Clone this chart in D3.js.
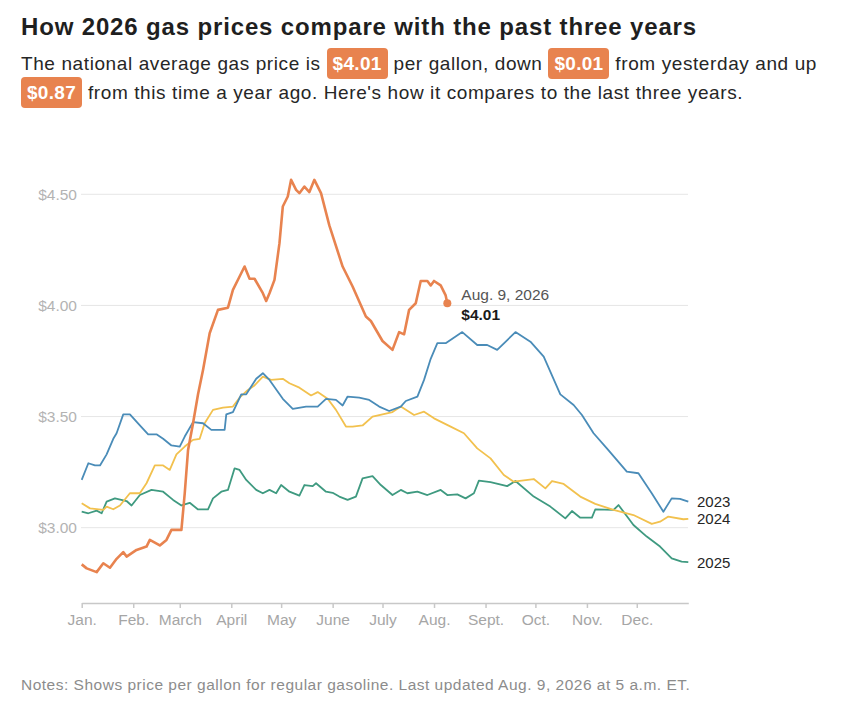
<!DOCTYPE html>
<html>
<head>
<meta charset="utf-8">
<script src="https://cdn.jsdelivr.net/npm/d3@7"></script>
<style>
  body { margin: 0; background: #fff; font-family: "Liberation Sans", Arial, sans-serif; }
  #head { position: absolute; left: 21px; top: 12px; width: 825px; }
  h1 { font-size: 24px; margin: 0; color: #1f1f1f; letter-spacing: 0.85px; line-height: 30px; }
  .sub { font-size: 19px; color: #262626; line-height: 28.5px; margin-top: 8px; letter-spacing: 0.6px; }
  .badge { background: #e8834f; color: #fff; font-weight: bold; border-radius: 4px; padding: 5px 6px; letter-spacing: 0.3px; }
  #chart { position: absolute; left: 0; top: 0; }
</style>
</head>
<body>
<div id="head">
  <h1>How 2026 gas prices compare with the past three years</h1>
  <div class="sub">The national average gas price is <span class="badge">$4.01</span> per gallon, down <span class="badge">$0.01</span> from yesterday and up<br><span class="badge">$0.87</span> from this time a year ago. Here's how it compares to the last three years.</div>
</div>
<svg id="chart" width="846" height="704"></svg>
<script>
// day of year (0 = Jan 1), price in dollars
let days26 = [0,3,9,13,17,21,25,27,33,39,41,47,51,54,60,62,64,67,70,73,77,82,88,91,95,98,101,104,109,111,113,116,119,121,124,126,129,131,134,137,140,144,149,157,163,171,174,181,187,191,194,197,201,204,208,210,212,216,219,220]
let vals26 = [2.835,2.817,2.80,2.84,2.82,2.86,2.89,2.87,2.90,2.915,2.945,2.92,2.945,2.99,2.99,3.155,3.35,3.47,3.60,3.71,3.875,3.98,3.99,4.07,4.13,4.175,4.12,4.12,4.055,4.02,4.055,4.115,4.28,4.445,4.49,4.565,4.52,4.505,4.535,4.51,4.565,4.505,4.36,4.175,4.085,3.95,3.93,3.84,3.80,3.88,3.87,3.98,4.01,4.11,4.11,4.09,4.11,4.09,4.045,4.01]

let days23 = [0,4,8,11,15,19,21,25,29,35,40,45,49,54,59,62,67,73,78,86,87,91,96,99,105,109,113,121,127,135,142,147,153,157,160,167,173,179,185,192,195,202,206,210,214,219,225,229,238,244,250,261,270,278,288,296,301,308,316,328,335,343,350,355,360,365]
let vals23 = [3.215,3.29,3.28,3.28,3.33,3.40,3.425,3.51,3.51,3.46,3.42,3.42,3.40,3.37,3.365,3.41,3.475,3.47,3.44,3.44,3.51,3.52,3.60,3.60,3.67,3.695,3.665,3.58,3.535,3.545,3.545,3.58,3.575,3.55,3.59,3.585,3.575,3.545,3.525,3.545,3.57,3.59,3.665,3.76,3.83,3.83,3.86,3.88,3.822,3.822,3.80,3.88,3.837,3.77,3.60,3.552,3.507,3.425,3.357,3.252,3.245,3.155,3.072,3.132,3.13,3.117]

let days24 = [0,5,13,15,19,23,29,35,39,44,49,53,57,62,67,71,74,79,85,91,95,100,104,109,114,121,125,131,138,142,148,153,159,163,169,175,181,187,192,200,206,212,222,230,238,246,254,260,272,279,283,290,300,309,320,332,343,348,353,362,365]
let vals24 = [3.11,3.087,3.08,3.095,3.083,3.10,3.155,3.155,3.20,3.28,3.28,3.26,3.33,3.365,3.395,3.40,3.47,3.53,3.54,3.545,3.585,3.62,3.64,3.68,3.665,3.67,3.65,3.63,3.595,3.61,3.58,3.53,3.455,3.455,3.46,3.50,3.51,3.52,3.545,3.507,3.522,3.492,3.455,3.425,3.357,3.312,3.237,3.207,3.219,3.177,3.21,3.197,3.14,3.107,3.08,3.057,3.017,3.027,3.05,3.038,3.04]

let days25 = [0,4,9,12,15,20,27,30,35,42,49,55,60,65,70,76,79,84,88,92,95,99,105,109,113,117,120,125,131,134,139,141,147,151,155,160,165,169,175,180,187,192,196,202,208,216,220,226,231,236,239,246,256,261,272,282,291,295,300,307,309,320,323,332,340,348,355,361,365]
let vals25 = [3.072,3.065,3.077,3.065,3.117,3.132,3.12,3.10,3.147,3.17,3.162,3.125,3.10,3.112,3.082,3.082,3.132,3.162,3.17,3.267,3.26,3.215,3.17,3.155,3.17,3.155,3.192,3.162,3.144,3.192,3.187,3.20,3.162,3.157,3.14,3.125,3.14,3.222,3.232,3.192,3.147,3.17,3.155,3.162,3.147,3.17,3.147,3.15,3.132,3.155,3.212,3.205,3.187,3.21,3.14,3.095,3.042,3.075,3.045,3.045,3.082,3.08,3.102,3.012,2.96,2.915,2.862,2.847,2.845]

let monthStarts = [0,31,59,90,120,151,181,212,243,273,304,334]
let monthLabels = ["Jan.","Feb.","March","April","May","June","July","Aug.","Sept.","Oct.","Nov.","Dec."]
let yTicks = [3.0, 3.5, 4.0, 4.5]

let series = [
  {name: "2025", days: days25, vals: vals25, color: "#3f9a80"},
  {name: "2024", days: days24, vals: vals24, color: "#f2c14e"},
  {name: "2023", days: days23, vals: vals23, color: "#4a8cb8"},
  {name: "2026", days: days26, vals: vals26, color: "#e8834f"}
]

let svg = d3.select("#chart")
let x = d3.scaleLinear().domain([0, 365]).range([81.7, 688.3])
let y = d3.scaleLinear().domain([3.0, 4.5]).range([527.7, 194.3])

// grid + y labels
svg.append("g").selectAll("line").data(yTicks).enter().append("line")
  .attr("x1", 81).attr("x2", 688)
  .attr("y1", d => y(d)).attr("y2", d => y(d))
  .attr("stroke", "#e6e6e6").attr("stroke-width", 1)
svg.append("g").selectAll("text").data(yTicks).enter().append("text")
  .attr("x", 77).attr("y", d => y(d) + 5.5)
  .attr("text-anchor", "end")
  .attr("fill", "#b3b3b3").attr("font-size", 15.5)
  .text(d => "$" + d.toFixed(2))

// x axis
let xAxis = d3.axisBottom(x).tickValues(monthStarts).tickFormat((d, i) => monthLabels[i]).tickSize(5).tickSizeOuter(0)
let gx = svg.append("g").attr("transform", "translate(0,603)").call(xAxis)
gx.select(".domain").attr("stroke", "#c8c8c8").attr("stroke-width", 1.5)
gx.selectAll(".tick line").attr("stroke", "#c8c8c8").attr("stroke-width", 1.5)
gx.selectAll(".tick text").attr("fill", "#a6a6a6").attr("font-size", 15.5)
  .attr("font-family", "Liberation Sans, Arial, sans-serif").attr("dy", "0.9em")

// lines
let line = d3.line().x(d => x(d[0])).y(d => y(d[1])).curve(d3.curveLinear)
svg.append("g").selectAll("path").data(series).enter().append("path")
  .attr("d", s => line(s.days.map((d, i) => [d, s.vals[i]])))
  .attr("fill", "none")
  .attr("stroke", s => s.color)
  .attr("stroke-width", s => s.name == "2026" ? 2.6 : 1.8)
  .attr("stroke-linejoin", "round")

// end point for 2026
let lastDay = days26[days26.length - 1], lastVal = vals26[vals26.length - 1]
svg.append("circle").attr("cx", x(lastDay)).attr("cy", y(lastVal)).attr("r", 4).attr("fill", "#e8834f")
svg.append("text").attr("x", x(lastDay) + 14).attr("y", y(lastVal) - 3)
  .attr("font-size", 15.5).attr("fill", "#555").text("Aug. 9, 2026")
svg.append("text").attr("x", x(lastDay) + 14).attr("y", y(lastVal) + 17)
  .attr("font-size", 15.5).attr("font-weight", "bold").attr("fill", "#1a1a1a").text("$" + lastVal.toFixed(2))

// year labels
let labelY = {"2023": 501.7, "2024": 519.2, "2025": 562.7}
svg.append("g").selectAll("text").data(["2023", "2024", "2025"]).enter().append("text")
  .attr("x", 697).attr("y", d => labelY[d] + 5)
  .attr("font-size", 15).attr("fill", "#262626").text(d => d)

// note
svg.append("text").attr("x", 21).attr("y", 690)
  .attr("font-size", 15.5).attr("fill", "#8c8c8c").attr("letter-spacing", 0.5)
  .text("Notes: Shows price per gallon for regular gasoline. Last updated Aug. 9, 2026 at 5 a.m. ET.")
</script>
</body>
</html>
